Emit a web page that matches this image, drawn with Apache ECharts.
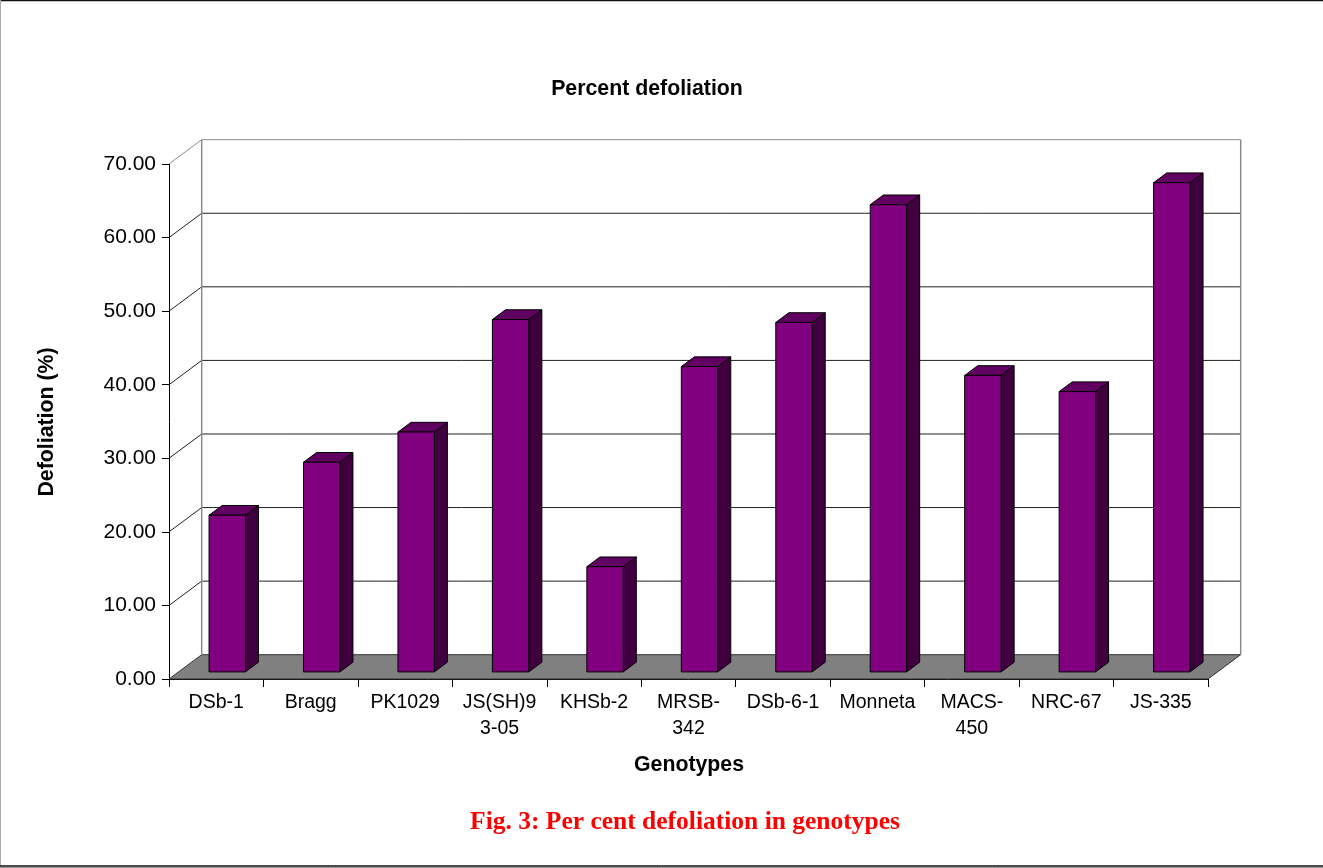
<!DOCTYPE html>
<html>
<head>
<meta charset="utf-8">
<script src="https://cdn.jsdelivr.net/npm/echarts@6/dist/echarts.min.js"></script>
<style>
  html, body { margin: 0; padding: 0; background: #fff; }
  #chart { width: 1323px; height: 868px; }
</style>
</head>
<body>
<div id="chart"></div>
<script>
// Genotypes on the category axis and their per cent defoliation
const genotypes = ['DSb-1', 'Bragg', 'PK1029', 'JS(SH)9\n3-05', 'KHSb-2', 'MRSB-\n342',
                   'DSb-6-1', 'Monneta', 'MACS-\n450', 'NRC-67', 'JS-335'];
const defoliation = [21.3, 28.5, 32.6, 47.9, 14.3, 41.5, 47.5, 63.5, 40.3, 38.1, 66.5];
const yTicks = [0, 10, 20, 30, 40, 50, 60, 70];

// Oblique projection of the 3-D box: full floor depth in pixels
const DEPTH_X = 32.7;
const DEPTH_Y = -24.3;
// Bar placement inside the box (fractions of depth / band)
const BAR_FRONT = 0.292;   // depth where the bar's front face stands
const BAR_DEPTH = 0.40;    // bar thickness in depth
const BAR_LEFT = 0.424;    // front-face left edge, fraction of band
const BAR_WIDTH = 0.385;   // front-face width, fraction of band

const FONT = 'Arial, "Liberation Sans", Helvetica, sans-serif';

function renderWall(params, api) {
  const v = api.value(1);
  const band = api.size([1, 0])[0];
  const p = api.coord([0, v]);
  const xL = p[0] - band / 2;
  const xR = xL + band * genotypes.length;
  const y = p[1];
  const isTop = v === yTicks[yTicks.length - 1];
  const lineColor = isTop ? '#8c8c8c' : '#222';
  const children = [];
  if (v === 0) {
    children.push({
      type: 'polygon',
      shape: { points: [[xL, y], [xR, y], [xR + DEPTH_X, y + DEPTH_Y], [xL + DEPTH_X, y + DEPTH_Y]] },
      style: { fill: '#808080', stroke: '#333', lineWidth: 1 },
      z2: 0
    });
    const yTop = api.coord([0, yTicks[yTicks.length - 1]])[1];
    children.push({
      type: 'line',
      shape: { x1: xL + DEPTH_X, y1: y + DEPTH_Y, x2: xL + DEPTH_X, y2: yTop + DEPTH_Y },
      style: { stroke: '#8c8c8c', lineWidth: 1.5 },
      z2: 2
    });
    children.push({
      type: 'line',
      shape: { x1: xR + DEPTH_X, y1: y + DEPTH_Y, x2: xR + DEPTH_X, y2: yTop + DEPTH_Y },
      style: { stroke: '#8c8c8c', lineWidth: 1.5 },
      z2: 2
    });
  } else {
    children.push({
      type: 'line',
      shape: { x1: xL, y1: y, x2: xL + DEPTH_X, y2: y + DEPTH_Y },
      style: { stroke: lineColor, lineWidth: 1 },
      z2: 1
    });
    children.push({
      type: 'line',
      shape: { x1: xL + DEPTH_X, y1: y + DEPTH_Y, x2: xR + DEPTH_X, y2: y + DEPTH_Y },
      style: { stroke: lineColor, lineWidth: 1 },
      z2: 1
    });
  }
  return { type: 'group', children: children };
}

function renderBar(params, api) {
  const i = api.value(0);
  const v = api.value(1);
  const band = api.size([1, 0])[0];
  const base = api.coord([i, 0]);
  const top = api.coord([i, v]);
  const x0 = base[0] - band / 2 + band * BAR_LEFT;
  const w = band * BAR_WIDTH;
  const yBot = base[1] + DEPTH_Y * BAR_FRONT;
  const yTop = top[1] + DEPTH_Y * BAR_FRONT;
  const bx = DEPTH_X * BAR_DEPTH;
  const by = DEPTH_Y * BAR_DEPTH;
  const edge = { stroke: '#000', lineWidth: 1, lineJoin: 'miter' };
  return {
    type: 'group',
    children: [
      {
        type: 'polygon',
        shape: { points: [[x0 + w, yBot], [x0 + w + bx, yBot + by], [x0 + w + bx, yTop + by], [x0 + w, yTop]] },
        style: Object.assign({ fill: '#400040' }, edge)
      },
      {
        type: 'polygon',
        shape: { points: [[x0, yTop], [x0 + bx, yTop + by], [x0 + w + bx, yTop + by], [x0 + w, yTop]] },
        style: Object.assign({ fill: '#600060' }, edge)
      },
      {
        type: 'rect',
        shape: { x: x0, y: yTop, width: w, height: yBot - yTop },
        style: Object.assign({ fill: '#800080' }, edge)
      }
    ]
  };
}

const chart = echarts.init(document.getElementById('chart'), null, { renderer: 'canvas' });

chart.setOption({
  animation: false,
  backgroundColor: '#fff',
  grid: { left: 169, right: 115, top: 164, bottom: 189, containLabel: false },
  xAxis: {
    type: 'category',
    data: genotypes,
    boundaryGap: true,
    axisLine: { show: true, lineStyle: { color: '#000', width: 1 } },
    axisTick: { show: true, length: 8, lineStyle: { color: '#000' } },
    axisLabel: {
      interval: 0, margin: 11, color: '#000', fontSize: 19.5, lineHeight: 26,
      fontFamily: FONT, align: 'center'
    },
    splitLine: { show: false }
  },
  yAxis: {
    type: 'value',
    min: 0, max: 70, interval: 10,
    axisLine: { show: true, lineStyle: { color: '#000', width: 1 } },
    axisTick: { show: true, length: 7, lineStyle: { color: '#000' } },
    axisLabel: {
      margin: 13, color: '#000', fontSize: 21, fontFamily: FONT,
      formatter: function (val) { return val.toFixed(2); }
    },
    splitLine: { show: false }
  },
  series: [
    {
      type: 'custom',
      name: 'walls',
      renderItem: renderWall,
      data: yTicks.map(function (t) { return [0, t]; }),
      encode: { x: 0, y: 1 },
      z: 1,
      silent: true,
      clip: false
    },
    {
      type: 'custom',
      name: 'Defoliation (%)',
      renderItem: renderBar,
      data: defoliation.map(function (v, i) { return [i, v]; }),
      encode: { x: 0, y: 1 },
      z: 3,
      clip: false
    }
  ],
  graphic: [
    // frame of the figure
    { type: 'line', shape: { x1: 0, y1: 0.5, x2: 1323, y2: 0.5 }, style: { stroke: '#111', lineWidth: 1.5 }, silent: true },
    { type: 'line', shape: { x1: 0.5, y1: 0, x2: 0.5, y2: 866 }, style: { stroke: '#aaa', lineWidth: 1 }, silent: true },
    { type: 'line', shape: { x1: 0, y1: 866, x2: 1323, y2: 866 }, style: { stroke: '#111', lineWidth: 1.5 }, silent: true },
    { type: 'line', shape: { x1: 0, y1: 867.5, x2: 1323, y2: 867.5 }, style: { stroke: '#999', lineWidth: 1 }, silent: true },
    // chart title
    {
      type: 'text', x: 647, y: 89,
      style: { text: 'Percent defoliation', font: 'bold 21.3px ' + FONT, fill: '#000', textAlign: 'center', textVerticalAlign: 'middle' }
    },
    // axis titles
    {
      type: 'text', x: 47, y: 422, rotation: Math.PI / 2,
      style: { text: 'Defoliation (%)', font: 'bold 21.3px ' + FONT, fill: '#000', textAlign: 'center', textVerticalAlign: 'middle' }
    },
    {
      type: 'text', x: 689, y: 765,
      style: { text: 'Genotypes', font: 'bold 21.3px ' + FONT, fill: '#000', textAlign: 'center', textVerticalAlign: 'middle' }
    },
    // figure caption
    {
      type: 'text', x: 685, y: 822,
      style: { text: 'Fig. 3: Per cent defoliation in genotypes', font: 'bold 25.5px "Liberation Serif", "Times New Roman", serif', fill: '#ff0000', textAlign: 'center', textVerticalAlign: 'middle' }
    }
  ]
});
</script>
</body>
</html>
